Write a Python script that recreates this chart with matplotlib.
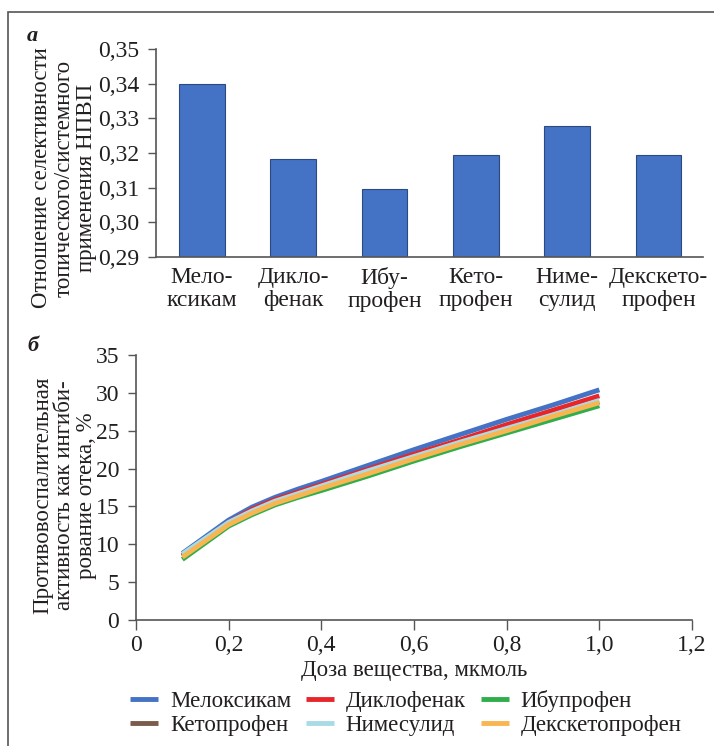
import matplotlib
matplotlib.use("Agg")
import matplotlib.pyplot as plt
from matplotlib.patches import Rectangle

plt.rcParams['font.family'] = ['Liberation Serif', 'DejaVu Serif']
plt.rcParams['font.size'] = 17
plt.rcParams['text.color'] = '#231f20'
plt.rcParams['axes.labelcolor'] = '#231f20'
plt.rcParams['xtick.color'] = '#231f20'
plt.rcParams['ytick.color'] = '#231f20'

# panel a data
drug_labels = ["Мело-\nксикам", "Дикло-\nфенак", "Ибу-\nпрофен",
               "Кето-\nпрофен", "Ниме-\nсулид", "Декскето-\nпрофен"]
ratio = [0.340, 0.3183, 0.3097, 0.3195, 0.3279, 0.3195]
ratio_ticks = [0.29, 0.30, 0.31, 0.32, 0.33, 0.34, 0.35]

# panel b data
dose = [0.1, 0.2, 0.25, 0.3, 0.35, 0.4, 0.5, 0.6, 0.7, 0.8, 0.9, 1.0]
meloxicam  = [8.8, 13.2, 14.9, 16.2, 17.3, 18.3, 20.4, 22.5, 24.5, 26.5, 28.4, 30.4]
diclofenac = [8.5, 12.9, 14.6, 15.9, 16.9, 17.9, 19.9, 21.9, 23.8, 25.8, 27.7, 29.6]
ibuprofen  = [8.0, 12.4, 13.9, 15.2, 16.2, 17.1, 19.0, 21.0, 22.9, 24.7, 26.5, 28.3]
ketoprofen = [8.4, 12.7, 14.2, 15.5, 16.5, 17.5, 19.4, 21.4, 23.3, 25.1, 27.0, 28.8]
nimesulide = [8.7, 12.9, 14.4, 15.7, 16.7, 17.7, 19.7, 21.6, 23.5, 25.3, 27.1, 29.0]
dexketo    = [8.3, 12.6, 14.1, 15.4, 16.4, 17.4, 19.3, 21.3, 23.2, 25.0, 26.9, 28.7]

series = [
    ("Мелоксикам", meloxicam, "#4472c4"),
    ("Диклофенак", diclofenac, "#e8262a"),
    ("Ибупрофен", ibuprofen, "#2fae4b"),
    ("Кетопрофен", ketoprofen, "#7b5b4b"),
    ("Нимесулид", nimesulide, "#a8dbe6"),
    ("Декскетопрофен", dexketo, "#f9b552"),
]

W, H = 714, 746
fig = plt.figure(figsize=(W / 100, H / 100), dpi=100)

# frame round the figure (only left and top edges show)
fig.patches.append(Rectangle((8 / W, -0.1), 1.2, 1 - 12 / H + 0.1, transform=fig.transFigure,
                             fill=False, edgecolor='#555555', linewidth=1.2))

spine_col = '#555555'

# ---- panel a
axW, axH = 547, 208
ax1 = fig.add_axes([156 / W, 1 - 257 / H, axW / W, axH / H])
xs = list(range(len(ratio)))
ax1.bar(xs, [r - 0.29 for r in ratio], bottom=0.29, width=0.5,
        color='#4472c4', edgecolor='#2b4a80', linewidth=0.8)
ax1.set_ylim(0.29, 0.35)
ax1.set_xlim(-46 / 91.3, (703 - 202) / 91.3)
ax1.set_yticks(ratio_ticks)
ax1.set_yticklabels([f"{v:.2f}".replace('.', ',') for v in ratio_ticks])
ax1.set_xticks(xs)
ax1.set_xticklabels(drug_labels, linespacing=1.15)
ax1.tick_params(axis='x', length=0, pad=7)
ax1.tick_params(axis='y', length=6, width=1, color=spine_col, pad=6)
for s in ['top', 'right']:
    ax1.spines[s].set_visible(False)
for s in ['left', 'bottom']:
    ax1.spines[s].set_color(spine_col)
    ax1.spines[s].set_linewidth(1.2)
ax1.set_ylabel("Отношение селективности\nтопического/системного\nприменения НПВП",
               linespacing=1.1, fontsize=16.5)
ax1.yaxis.set_label_coords(-(156 - 97) / axW, 0.38)

fig.text(27 / W, 1 - 36 / H, "а", fontweight='bold', fontstyle='italic', fontsize=16,
         ha='left', va='center')
fig.text(27 / W, 1 - 346 / H, "б", fontweight='bold', fontstyle='italic', fontsize=16,
         ha='left', va='center')

# ---- panel b
bW, bH = 556, 265
ax2 = fig.add_axes([136 / W, 1 - 620 / H, bW / W, bH / H])
for name, vals, col in series:
    ax2.plot(dose, vals, color=col, linewidth=3.5, label=name, solid_capstyle='butt')
ax2.set_xlim(0, 1.2)
ax2.set_ylim(0, 35)
ax2.set_xticks([0, 0.2, 0.4, 0.6, 0.8, 1.0, 1.2])
ax2.set_xticklabels(["0", "0,2", "0,4", "0,6", "0,8", "1,0", "1,2"])
ax2.set_yticks(range(0, 36, 5))
ax2.tick_params(axis='x', length=7, width=1, color=spine_col, pad=4)
ax2.tick_params(axis='y', length=6, width=1, color=spine_col, pad=6)
for s in ['top', 'right']:
    ax2.spines[s].set_visible(False)
for s in ['left', 'bottom']:
    ax2.spines[s].set_color(spine_col)
    ax2.spines[s].set_linewidth(1.2)
ax2.set_xlabel("Доза вещества, мкмоль", labelpad=3, fontsize=16.5)
ax2.set_ylabel("Противовоспалительная\nактивность как ингиби-\nрование отека, %",
               linespacing=1.05, fontsize=16.5)
ax2.yaxis.set_label_coords(-(136 - 97) / bW, 0.47)

# legend filled row by row, three columns
handles, labels = ax2.get_legend_handles_labels()
order = [0, 3, 1, 4, 2, 5]
fig.legend([handles[i] for i in order], [labels[i] for i in order],
           loc='center left', bbox_to_anchor=(130 / W, 1 - 713 / H), ncol=3, frameon=False,
           borderpad=0, borderaxespad=0, handlelength=1.22, handletextpad=0.52,
           columnspacing=0.65, labelspacing=0.1, fontsize=16.5)

fig.savefig("out.png", dpi=100)
